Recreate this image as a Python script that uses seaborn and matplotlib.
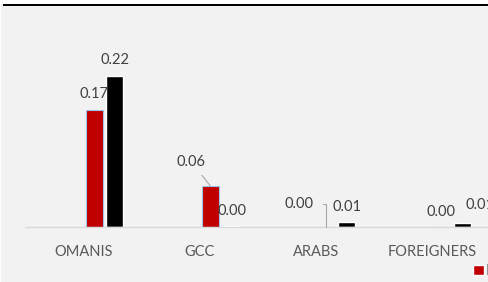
import matplotlib.pyplot as plt
import seaborn as sns
import pandas as pd
from matplotlib.patches import Rectangle

categories = ["OMANIS", "GCC", "ARABS", "FOREIGNERS"]
hidden_series = ["Series 1", "Series 2"]
series = ["Male", "Female"]
red_values = [0.17, 0.06, 0.0, 0.0]
black_values = [0.22, 0.001, 0.008, 0.006]

df = pd.DataFrame({
    "category": categories * 2,
    "series": [series[0]] * 4 + [series[1]] * 4,
    "value": red_values + black_values,
})

sns.set_theme(style="white")
plt.rcParams["font.family"] = ["Lato", "DejaVu Sans"]

W, H = 489, 282
fig = plt.figure(figsize=(W / 100, H / 100), dpi=100, facecolor="#F2F2F2")

# white margin + black rule at the top
fig.patches.append(Rectangle((0, 1 - 4 / H), 1, 4 / H, transform=fig.transFigure,
                             facecolor="white", edgecolor="none", zorder=0))
fig.patches.append(Rectangle((3 / W, 1 - 6 / H), 1, 2.5 / H, transform=fig.transFigure,
                             facecolor="black", edgecolor="none", zorder=0))
fig.patches.append(Rectangle((0, 0), 1 / W, 1, transform=fig.transFigure,
                             facecolor="white", edgecolor="none", zorder=0))

ax = fig.add_axes([26 / W, 55 / H, 464 / W, 206 / H])
ax.set_facecolor("none")

sns.barplot(
    data=df, x="category", y="value", hue="series",
    hue_order=hidden_series + series,
    palette=["#F2F2F2", "#F2F2F2", "#C00000", "#000000"],
    saturation=1, width=0.707, gap=0.17, dodge=True, legend=False, ax=ax,
)

ax.set_xlim(-0.5, 3.5)
ax.set_ylim(0, 0.30)
ax.set_xlabel("")
ax.set_ylabel("")
ax.set_yticks([])
ax.tick_params(axis="x", length=0, pad=13, labelsize=10.5, labelcolor="#595959")
for s in ["top", "left", "right"]:
    ax.spines[s].set_visible(False)
ax.spines["bottom"].set_color("#D9D9D9")
ax.spines["bottom"].set_linewidth(1)

containers = [c for c in ax.containers if len(c) > 0]
red_bars, black_bars = containers[-2], containers[-1]
for bar in red_bars:
    bar.set_edgecolor("#9DC3E6")
    bar.set_linewidth(0.8)

# label offsets in pixels (dx, dy) from bar top
red_offsets = [(0, 16), (-19, 24), (-27, 23), (-1, 15)]
black_offsets = [(0, 16), (1, 15), (0, 15), (17, 18)]
leader = [None, "straight", "angle", None]

line_kw = dict(arrowstyle="-", color="#A6A6A6", lw=0.8, shrinkB=0)
for bar, v, off, ld in zip(red_bars, red_values, red_offsets, leader):
    x = bar.get_x() + bar.get_width() / 2
    arrow = None
    if ld == "straight":
        arrow = dict(line_kw, shrinkA=3)
    elif ld == "angle":
        arrow = dict(line_kw, shrinkA=4, connectionstyle="angle,angleA=0,angleB=90,rad=0")
    ax.annotate(f"{v:.2f}", (x, bar.get_height()), xytext=off, textcoords="offset pixels",
                ha="center", va="center", fontsize=10.5, color="#404040",
                arrowprops=arrow, annotation_clip=False)

for bar, v, off in zip(black_bars, black_values, black_offsets):
    x = bar.get_x() + bar.get_width() / 2
    ax.annotate(f"{v:.2f}", (x, bar.get_height()), xytext=off, textcoords="offset pixels",
                ha="center", va="center", fontsize=10.5, color="#404040",
                annotation_clip=False)

handles = [Rectangle((0, 0), 1, 1, facecolor="#C00000"),
           Rectangle((0, 0), 1, 1, facecolor="#000000")]
fig.legend(handles, series, loc="center left", bbox_to_anchor=(473 / W, 11 / H),
           bbox_transform=fig.transFigure, ncol=2, frameon=False,
           handlelength=0.75, handleheight=0.75, handletextpad=0.1,
           borderpad=0, borderaxespad=0, fontsize=10.5, labelcolor="#595959")

fig.savefig("out.png", dpi=100, facecolor=fig.get_facecolor())
